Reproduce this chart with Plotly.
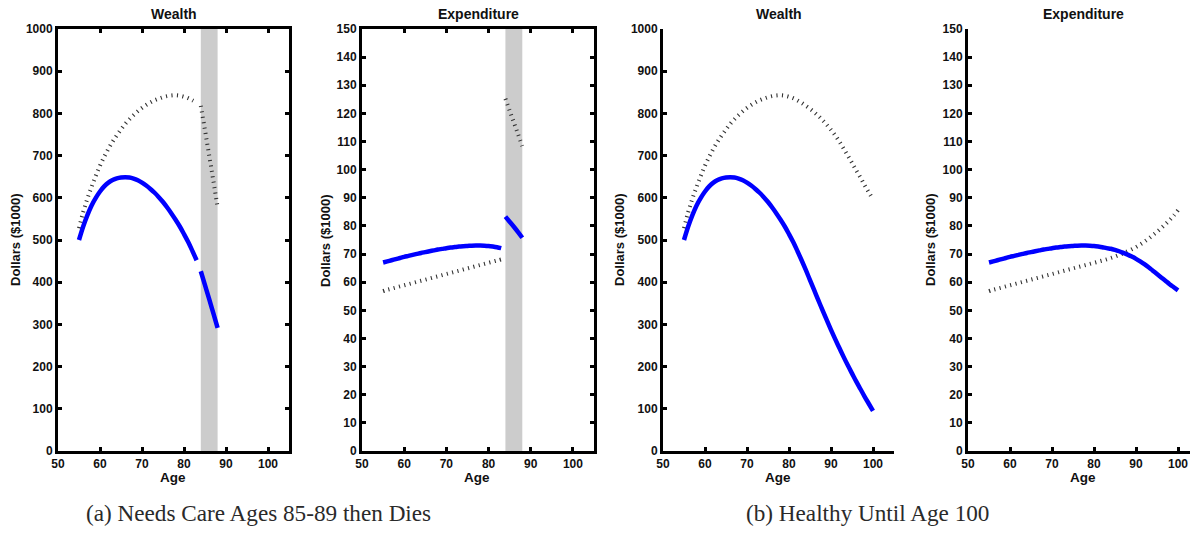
import plotly.graph_objects as go

# ---------------- data ----------------
ages = list(range(55, 101))
care_ages = [84, 85, 86, 87, 88]
pre_care_end = 83  # last age before care shock
care_band = [84, 88]

wealth_solid = [500, 532, 559, 582, 600, 615, 627, 636, 642, 646, 648, 648.5, 648, 645.5, 641.5,
                636, 629, 621, 612, 601.5, 590, 577, 563, 548, 532, 514, 495, 474, 452, 429,
                405, 381, 357, 333, 310, 287, 265, 244, 223, 203, 184, 165, 147, 129, 112, 95]
wealth_dotted = [528, 566, 598, 626, 652, 676, 697, 716, 733, 748, 762, 775, 786, 796, 805,
                 813, 820, 826, 831, 835, 838.5, 841, 842.5, 843, 842, 839.5, 836, 831, 825, 818,
                 811, 803, 794, 784, 773, 761, 748, 733, 717, 700, 683, 665, 648, 630, 613, 596]
exp_solid = [67.0, 67.4, 67.8, 68.2, 68.6, 69.0, 69.35, 69.7, 70.05, 70.4, 70.7, 71.0, 71.3, 71.6,
             71.85, 72.1, 72.3, 72.5, 72.65, 72.8, 72.9, 73.0, 73.05, 73.05, 73.0, 72.9, 72.7,
             72.45, 72.1, 71.9, 71.5, 71.0, 70.4, 69.8, 69.1, 68.3, 67.4, 66.4, 65.3, 64.1, 62.9,
             61.7, 60.5, 59.3, 58.2, 57.1]
exp_dotted = [56.8, 57.3, 57.7, 58.1, 58.5, 58.9, 59.3, 59.7, 60.1, 60.5, 60.9, 61.3, 61.7, 62.1,
              62.5, 62.9, 63.3, 63.7, 64.1, 64.5, 64.9, 65.3, 65.7, 66.1, 66.5, 66.9, 67.3, 67.7,
              68.1, 68.6, 69.1, 69.7, 70.3, 71.0, 71.7, 72.5, 73.4, 74.4, 75.5, 76.7, 77.9, 79.2,
              80.6, 82.1, 83.7, 85.6]

care_wealth_solid = [426, 393, 360, 326, 292]
care_wealth_dotted = [818, 760, 700, 640, 578]
care_exp_solid = [83.3, 81.5, 79.7, 77.8, 75.8]
care_exp_dotted = [125.2, 121.0, 116.8, 112.6, 108.4]

x_ticks = [50, 60, 70, 80, 90, 100]
wealth_ticks = list(range(0, 1001, 100))
exp_ticks = list(range(0, 151, 10))
panel_titles = ["Wealth", "Expenditure", "Wealth", "Expenditure"]
captions = ["(a) Needs Care Ages 85-89 then Dies", "(b) Healthy Until Age 100"]

# ---------------- layout helpers ----------------
W, H = 1190, 533
def px(x):
    return x / W
def py(y):
    return 1 - y / H
def ax(prefix, k):
    return prefix if k == 1 else f"{prefix}{k}"

BLUE = "rgb(0,0,255)"
DOT = "#333333"
FONT = "Liberation Sans"

panels = [  # left px, right px, axis x max
    (58, 289, 105),
    (362, 594, 105),
    (663, 894, 105),
    (968, 1190, 50 + (1190 - 968) / 4.2),
]
TOP, BOT = 29, 451

fig = go.Figure()

n_pre = pre_care_end - 55 + 1
pre_ages = ages[:n_pre]

def solid(xs, ys, k):
    fig.add_trace(go.Scatter(x=xs, y=ys, mode="lines", xaxis=ax("x", k), yaxis=ax("y", k),
                             line=dict(color=BLUE, width=4.5, shape="spline", smoothing=1.0),
                             showlegend=False, hoverinfo="skip"))

def dotted(xs, ys, k):
    fig.add_trace(go.Scatter(x=xs, y=ys, mode="lines", xaxis=ax("x", k), yaxis=ax("y", k),
                             line=dict(color=DOT, width=4, dash="1.1px,4.4px",
                                       shape="spline", smoothing=1.0),
                             showlegend=False, hoverinfo="skip"))

# panel 1: wealth, care shock
dotted(pre_ages, wealth_dotted[:n_pre], 1)
dotted(care_ages, care_wealth_dotted, 1)
solid(pre_ages, wealth_solid[:n_pre], 1)
solid(care_ages, care_wealth_solid, 1)
# panel 2: expenditure, care shock
dotted(pre_ages, exp_dotted[:n_pre], 2)
dotted(care_ages, care_exp_dotted, 2)
solid(pre_ages, exp_solid[:n_pre], 2)
solid(care_ages, care_exp_solid, 2)
# panel 3: wealth healthy
dotted(ages, wealth_dotted, 3)
solid(ages, wealth_solid, 3)
# panel 4: expenditure healthy
dotted(ages, exp_dotted, 4)
solid(ages, exp_solid, 4)

tickfont = dict(family=FONT, size=12, color="#111", weight="bold")
layout = dict(width=W, height=H, margin=dict(l=0, r=0, t=0, b=0, autoexpand=False),
              paper_bgcolor="white", plot_bgcolor="white", showlegend=False)

for i, (l, r, xmax) in enumerate(panels, start=1):
    boxed = i <= 2
    xa = dict(domain=[px(l), px(r)], range=[50, xmax], tickvals=x_ticks,
              showline=True, linecolor="black", linewidth=3,
              ticks="inside", ticklen=4, tickwidth=2.5, tickcolor="black",
              showgrid=False, zeroline=False, tickfont=tickfont,
              anchor=ax("y", i), mirror="ticks" if boxed else False, fixedrange=True)
    ya = dict(domain=[py(BOT), py(TOP)],
              range=[0, 1000] if i % 2 == 1 else [0, 150],
              tickvals=wealth_ticks if i % 2 == 1 else exp_ticks,
              showline=True, linecolor="black", linewidth=3,
              ticks="inside", ticklen=4, tickwidth=2.5, tickcolor="black",
              showgrid=False, zeroline=False, tickfont=tickfont,
              anchor=ax("x", i), mirror="ticks" if boxed else False, fixedrange=True)
    layout[ax("xaxis", i)] = xa
    layout[ax("yaxis", i)] = ya

fig.update_layout(**layout)

# care band
for k in (1, 2):
    fig.add_shape(type="rect", xref=ax("x", k), yref=ax("y", k) + " domain",
                  x0=care_band[0], x1=care_band[1],
                  y0=0, y1=1, fillcolor="#cccccc", line_width=0, layer="below")

# texts
def label(text, x, y, size, family=FONT, color="#111", weight="bold", angle=0):
    fig.add_annotation(text=text, x=px(x), y=py(y), xref="paper", yref="paper",
                       xanchor="center", yanchor="middle", showarrow=False, textangle=angle,
                       font=dict(family=family, size=size, color=color, weight=weight))

title_x = [173.5, 478, 778.5, 1083.5]
ylab_x = [15, 325, 619, 930]
for i in range(4):
    label(panel_titles[i], title_x[i], 14, 14)
    label("Age", title_x[i] - 1, 477, 13.5)
    label("Dollars ($1000)", ylab_x[i], 240, 13, angle=-90)

label(captions[0], 258, 513, 23.2, family="Liberation Serif", color="#2a2a2a", weight="normal")
label(captions[1], 867, 513, 23.2, family="Liberation Serif", color="#2a2a2a", weight="normal")

fig.write_html("out.html")
